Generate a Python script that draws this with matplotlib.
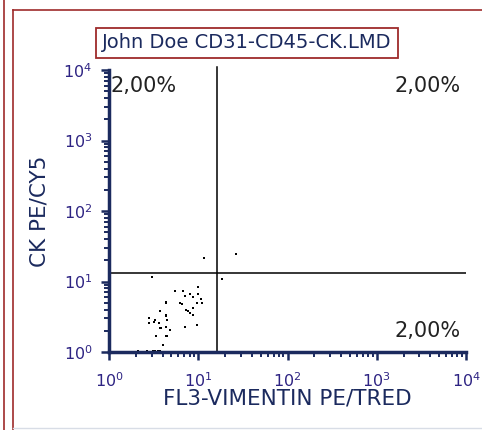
import matplotlib
matplotlib.use('Agg')
import matplotlib.pyplot as plt
from matplotlib.lines import Line2D
from matplotlib.ticker import LogLocator, NullFormatter
import numpy as np

# events (FL3 vimentin, CK)
fl3 = [11.5, 26.5, 3.0, 18.5, 9.9, 5.5, 6.7, 8.1, 7.1, 9.9, 8.8, 10.6, 11.1,
       4.4, 4.4, 6.3, 6.6, 9.6, 7.3, 7.6, 8.0, 8.7, 8.7, 3.7, 4.4, 4.3, 2.8,
       2.8, 3.3, 3.2, 3.6, 4.5, 3.7, 3.8, 4.3, 4.8, 9.6, 9.8, 7.1, 3.4, 4.4,
       4.5, 4.0, 2.1, 2.7, 3.1, 3.3, 3.5, 3.7]
ck = [21.3, 24.3, 11.5, 10.8, 8.4, 7.4, 7.4, 6.6, 6.3, 6.6, 6.1, 5.6, 5.0,
      5.1, 4.9, 5.0, 4.8, 4.9, 4.0, 3.8, 3.6, 4.2, 3.35, 3.86, 3.35, 3.2, 3.0,
      2.6, 2.8, 2.7, 2.6, 2.8, 2.17, 2.17, 2.29, 2.05, 2.4, 2.4, 2.29, 1.69,
      1.69, 1.7, 1.26, 1.05, 1.05, 1.05, 1.05, 1.05, 1.05]
gate_x = 16.3
gate_y = 13.2
quad_pct = ['2,00%', '2,00%', '2,00%']
title = 'John Doe CD31-CD45-CK.LMD'

navy = '#1b2a5e'
tick_col = '#2e2483'
red = '#9e2b2b'
font = 'DejaVu Sans'

fig = plt.figure(figsize=(4.82, 4.30), dpi=100)
fig.patch.set_facecolor('white')
ax = fig.add_axes([109 / 482, 78 / 430, 357 / 482, 282 / 430])
ax.set_xscale('log')
ax.set_yscale('log')
ax.set_xlim(1, 1e4)
ax.set_ylim(1, 1e4)

ax.plot(fl3, ck, 's', ms=1.8, color='black', mew=0, clip_on=False)

ax.axvline(gate_x, ymin=0, ymax=1.01, color='black', lw=1.1, clip_on=False)
ax.axhline(gate_y, color='black', lw=1.1)

for s in ['top', 'right']:
    ax.spines[s].set_visible(False)
for s in ['left', 'bottom']:
    ax.spines[s].set_color(navy)
    ax.spines[s].set_linewidth(2.5)

ax.xaxis.set_major_locator(LogLocator(base=10, numticks=10))
ax.yaxis.set_major_locator(LogLocator(base=10, numticks=10))
ax.xaxis.set_minor_locator(LogLocator(base=10, subs=np.arange(2, 10), numticks=10))
ax.yaxis.set_minor_locator(LogLocator(base=10, subs=np.arange(2, 10), numticks=10))
ax.xaxis.set_minor_formatter(NullFormatter())
ax.yaxis.set_minor_formatter(NullFormatter())
ax.tick_params(which='major', length=6, width=1.8, color=navy,
               labelcolor=tick_col, labelsize=11.5, direction='out')
ax.tick_params(axis='x', which='major', pad=8)
ax.tick_params(axis='y', which='major', pad=6)
ax.tick_params(which='minor', length=3.5, width=1.4, color=navy, direction='out')

ax.set_xlabel('FL3-VIMENTIN PE/TRED', color=navy, fontsize=15.5, labelpad=-1,
              family=font)
ax.set_ylabel('CK PE/CY5', color=navy, fontsize=15.5, labelpad=10,
              family=font)

txt = dict(fontsize=15, color='#222222', family=font,
           transform=ax.transAxes)
ax.text(0.005, 0.945, quad_pct[0], ha='left', va='center', **txt)
ax.text(0.985, 0.945, quad_pct[1], ha='right', va='center', **txt)
ax.text(0.985, 0.075, quad_pct[2], ha='right', va='center', **txt)

fig.text(247 / 482, 1 - 43 / 430, title, ha='center', va='center',
         fontsize=14, color=navy, family=font,
         bbox=dict(boxstyle='square,pad=0.3', fc='white', ec=red, lw=1.3))

# outer frame
tr = fig.transFigure
fig.add_artist(Line2D([13 / 482, 0.999], [1 - 10 / 430, 1 - 10 / 430],
                      color=red, lw=1.2, transform=tr))
fig.add_artist(Line2D([13 / 482, 13 / 482], [0, 1 - 10 / 430],
                      color=red, lw=1.2, transform=tr))
fig.add_artist(Line2D([3.5 / 482, 3.5 / 482], [0, 1], color=red, lw=1.2,
                      transform=tr))
fig.add_artist(Line2D([13 / 482, 0.999], [2 / 430, 2 / 430],
                      color='#d8dde6', lw=1.0, transform=tr))

fig.savefig('out.png', dpi=100)
